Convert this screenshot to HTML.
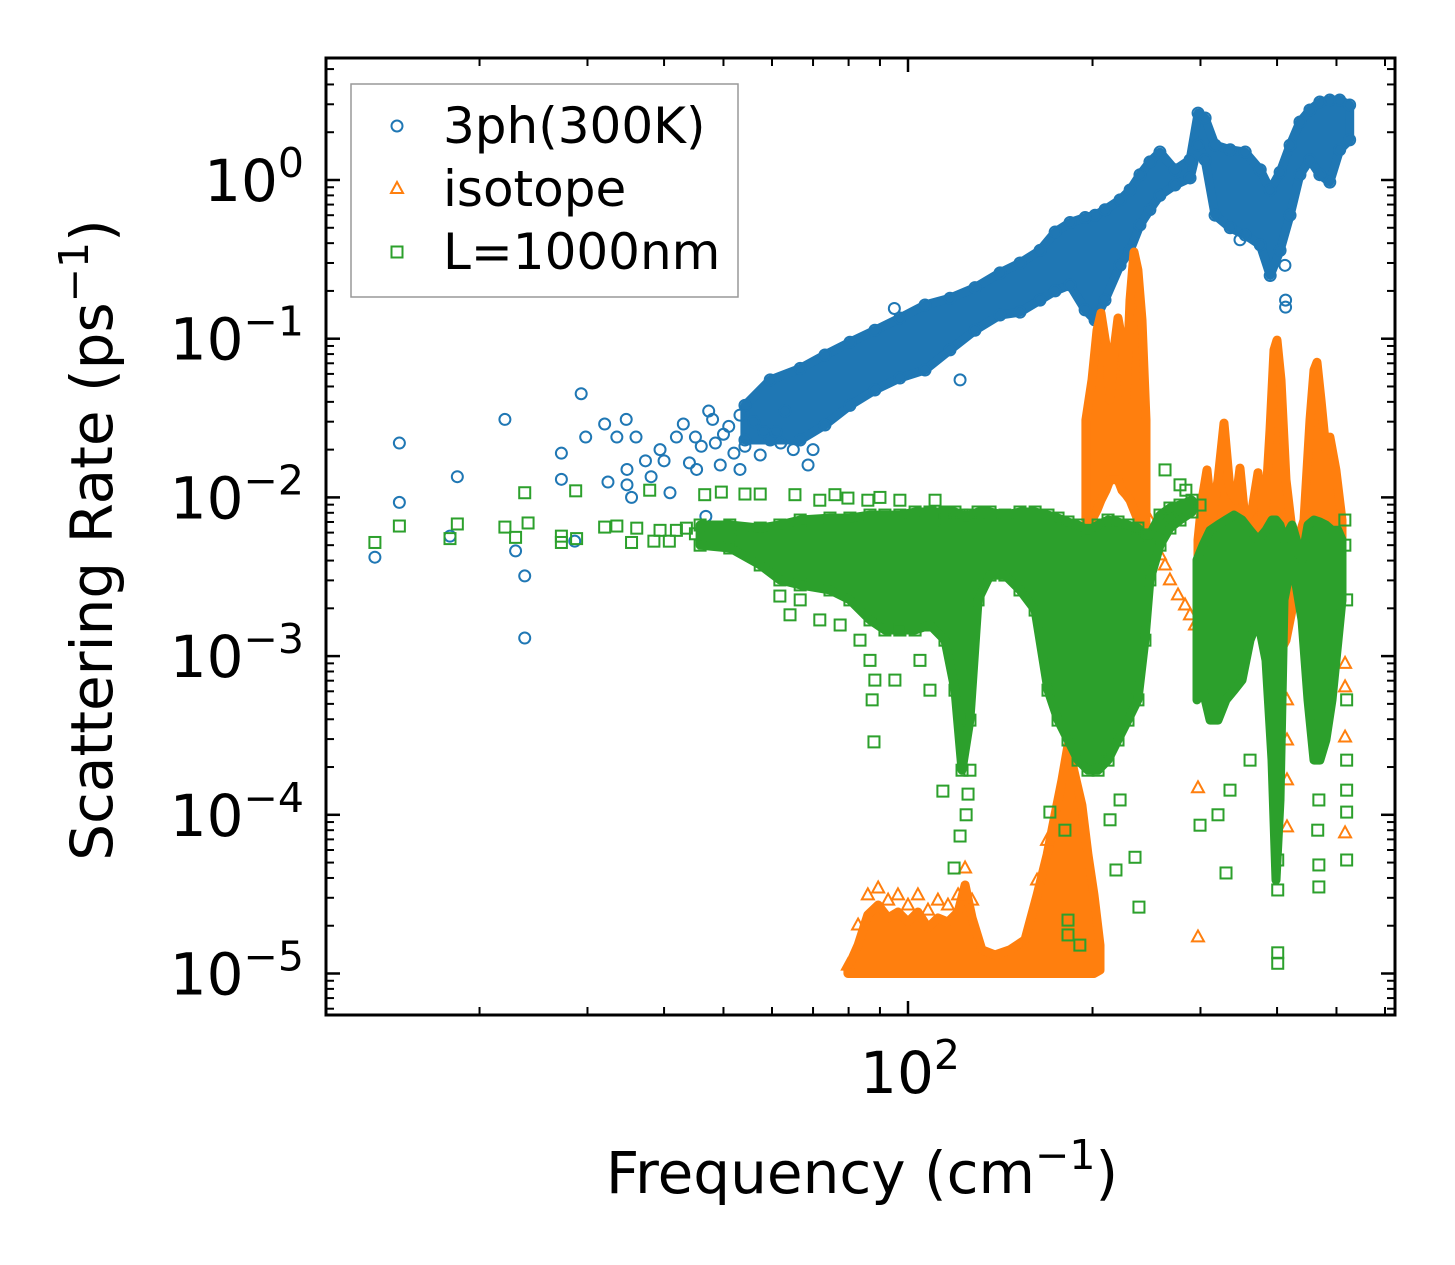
<!DOCTYPE html>
<html>
<head>
<meta charset="utf-8">
<style>
  html,body{margin:0;padding:0;background:#fff;}
  svg{display:block;}
  text{font-family:"DejaVu Sans","Liberation Sans",sans-serif;fill:#000;}
</style>
</head>
<body>
<svg id="chart" width="1455" height="1265" viewBox="0 0 1455 1265" xmlns="http://www.w3.org/2000/svg">
  <rect x="0" y="0" width="1455" height="1265" fill="#fff"/>
  <g id="marks"></g>
  <g id="axes"></g>
  <g id="legend">
    <rect x="351" y="84" width="387" height="213" fill="#fff" fill-opacity="0.8" stroke="#999" stroke-width="1.5"/>
    <circle cx="397" cy="126" r="5.5" fill="none" stroke="#1f77b4" stroke-width="2"/>
    <text x="443" y="143" font-size="50">3ph(300K)</text>
    <polygon points="397,182 403,193 391,193" fill="none" stroke="#ff7f0e" stroke-width="2"/>
    <text x="443" y="206" font-size="50">isotope</text>
    <rect x="391.5" y="246.5" width="11" height="11" fill="none" stroke="#2ca02c" stroke-width="2"/>
    <text x="443" y="269" font-size="50">L=1000nm</text>
  </g>
  <text x="862" y="1193" font-size="58" text-anchor="middle">Frequency (cm<tspan dy="-24" font-size="41">−1</tspan><tspan dy="24">)</tspan></text>
  <text transform="translate(112,540) rotate(-90)" x="0" y="0" font-size="58" text-anchor="middle">Scattering Rate (ps<tspan dy="-24" font-size="41">−1</tspan><tspan dy="24">)</tspan></text>
</svg>
<script>
// ---------- data: 3ph(300K) ----------
const blueBandFreq = [54.2,59.6,66.7,73.2,80.4,88.3,97.0,106.6,117.1,128.6,141.3,152.3,164.2,173.8,183.8,194.5,201.9,209.6,221.8,230.3,239.0,248.1,257.6,272.6,288.5,297.3,305.3,316.9,335.4,354.9,375.5,389.8,404.6,420.0,435.9,452.5,469.7,487.6,506.1,525.4];
const blueBandHi = [0.038,0.055,0.065,0.079,0.095,0.113,0.135,0.163,0.18,0.21,0.26,0.30,0.36,0.47,0.54,0.58,0.60,0.65,0.75,0.865,1.08,1.30,1.50,1.16,1.34,2.64,2.46,1.66,1.55,1.50,1.16,0.865,1.12,1.66,2.32,2.76,3.10,3.19,3.19,2.97];
const blueBandLo = [0.023,0.023,0.023,0.0286,0.038,0.0475,0.0565,0.0635,0.085,0.113,0.141,0.147,0.175,0.20,0.218,0.152,0.131,0.175,0.29,0.36,0.52,0.65,0.80,0.93,1.03,1.66,1.34,0.60,0.50,0.45,0.39,0.25,0.36,0.60,1.08,1.34,1.08,0.97,1.55,1.79];
const bluePtFreq = [13.5,14.8,14.8,18.4,17.9,22.0,22.9,23.7,23.7,27.2,27.2,28.6,29.3,29.8,32.0,32.4,33.5,34.7,34.8,34.8,35.4,36.0,37.3,38.1,39.4,40.0,40.9,41.9,43.0,44.0,45.0,45.2,46.0,47.3,48.0,46.8,48.5,49.4,50.0,53.2,53.2,54.2,57.4,58.2,60.9,68.7,63.0,95.0,412,413,413,348,121.6,51.0,52.0,56.0,62.0,65.0,70.0];
const bluePtRate = [4.2e-3,2.2e-2,9.3e-3,1.35e-2,5.7e-3,3.1e-2,4.6e-3,3.2e-3,1.3e-3,1.9e-2,1.3e-2,5.3e-3,4.5e-2,2.4e-2,2.9e-2,1.25e-2,2.4e-2,3.1e-2,1.5e-2,1.2e-2,1.0e-2,2.4e-2,1.7e-2,1.35e-2,2.0e-2,1.7e-2,1.07e-2,2.4e-2,2.9e-2,1.65e-2,2.4e-2,1.5e-2,2.1e-2,3.5e-2,3.1e-2,7.6e-3,2.2e-2,1.6e-2,2.5e-2,3.3e-2,1.5e-2,2.1e-2,1.85e-2,2.6e-2,2.6e-2,1.6e-2,3.5e-2,0.155,0.29,0.175,0.158,0.42,0.055,2.8e-2,1.9e-2,3.0e-2,2.2e-2,2.0e-2,2.0e-2];

// ---------- data: isotope ----------
const oLowFreq = [79.8,82.9,86.0,89.4,92.8,96.3,100,103.8,107.8,111.9,116.2,120.7,123.9,127.2,132.0,138.7,146.7,155.2,162.4,168.6,173.7,178.3,182.4,187.2,192.2,196.6,201.1,205.7];
const oLowTop = [1.08e-5,1.51e-5,2.34e-5,2.70e-5,2.24e-5,2.44e-5,2.11e-5,2.44e-5,1.94e-5,2.24e-5,2.11e-5,2.44e-5,3.61e-5,2.24e-5,1.41e-5,1.31e-5,1.41e-5,1.63e-5,3.13e-5,5.6e-5,1.0e-4,1.66e-4,2.75e-4,1.78e-4,1.15e-4,5.6e-5,3.13e-5,1.51e-5];
const oLowBot = [1e-5,1e-5,1e-5,1e-5,1e-5,1e-5,1e-5,1e-5,1e-5,1e-5,1e-5,1e-5,1e-5,1e-5,1e-5,1e-5,1e-5,1e-5,1e-5,1e-5,1e-5,1e-5,1e-5,1e-5,1e-5,1e-5,1e-5,1.05e-5];
const oHighFreq = [195.1,199.6,203.4,206.5,210.4,213.6,216.8,220.1,223.4,226.8,230.2,233.7,237.2,240.8,244.5];
const oHighTop = [3.08e-2,5.5e-2,0.113,0.145,0.091,4.11e-2,8.5e-2,0.135,9.8e-2,4.11e-2,0.175,0.352,0.271,0.131,3.08e-2];
const oHighBot = [5.4e-3,7.2e-3,8.3e-3,9.6e-3,1.11e-2,1.29e-2,1.29e-2,1.29e-2,1.11e-2,1.04e-2,9.6e-3,8.3e-3,7.2e-3,5.4e-3,4.34e-3];
const oRightFreq = [297.2,301.7,307.4,313.3,320.4,327.7,335.2,342.8,348.0,354.6,364.1,372.4,380.9,389.5,395.4,399.9,406.0,413.7,423.1,432.7,442.6,452.7,459.5,464.7,471.7,480.6,487.9,499.0,510.5];
const oRightTop = [5.4e-3,9.6e-3,1.49e-2,7.2e-3,1.29e-2,2.94e-2,1.11e-2,9.6e-3,1.53e-2,7.2e-3,8.3e-3,1.43e-2,6.2e-3,2.66e-2,8.5e-2,9.8e-2,5.5e-2,1.29e-2,6.2e-3,5.4e-3,7.2e-3,3.08e-2,6.35e-2,7.1e-2,4.11e-2,1.99e-2,2.40e-2,1.49e-2,7.2e-3];
const oRightBot = [1.57e-3,1.69e-3,1.69e-3,1.69e-3,1.46e-3,1.46e-3,1.46e-3,1.46e-3,1.46e-3,1.46e-3,1.46e-3,1.46e-3,1.69e-3,1.46e-3,1.26e-3,1.09e-3,1.09e-3,1.26e-3,1.95e-3,2.26e-3,2.43e-3,2.43e-3,2.43e-3,2.61e-3,2.26e-3,1.95e-3,1.95e-3,1.69e-3,2.26e-3];
const oPtFreq = [79.8,82.9,86.0,89.4,92.8,96.3,100,103.8,107.8,111.9,116.2,120.7,123.9,127.2,162.4,168.6,182.4,248.1,252.9,257.7,262.6,267.5,275.7,283.1,288.4,293.9,516.4,516.4,516.4,516.4,297.2,297.2,415.2,415.2,415.2,415.2,201.9,221.8,239.0];
const oPtRate = [1.13e-5,2.02e-5,3.13e-5,3.46e-5,2.90e-5,3.13e-5,2.70e-5,3.13e-5,2.51e-5,2.90e-5,2.70e-5,3.13e-5,4.62e-5,2.90e-5,3.88e-5,6.9e-5,3.42e-4,7.2e-3,5.4e-3,4.34e-3,3.75e-3,3.02e-3,2.43e-3,2.10e-3,1.82e-3,1.57e-3,9.0e-4,6.4e-4,3.09e-4,7.7e-5,1.48e-4,1.70e-5,5.3e-4,2.96e-4,1.66e-4,8.4e-5,5.0e-3,4.04e-3,4.04e-3];

// ---------- data: L=1000nm ----------
const gBandFreq = [45.8,51.2,57.4,61.8,66.7,74.6,80.4,86.7,91.7,97.0,102.7,108.6,114.9,119.3,122.5,126.2,130.1,136.1,143.9,152.3,161.2,169.2,175.7,182.4,189.4,196.6,204.2,212.0,220.1,228.5,237.2,243.5,248.1,257.7,267.5,277.8,290.6];
const gBandTop = [6.70e-3,6.70e-3,6.41e-3,6.70e-3,7.2e-3,7.41e-3,7.41e-3,7.74e-3,7.74e-3,7.74e-3,8.09e-3,8.09e-3,8.09e-3,8.09e-3,7.74e-3,7.74e-3,8.09e-3,8.09e-3,7.74e-3,8.09e-3,8.09e-3,7.74e-3,7.41e-3,7.0e-3,6.70e-3,6.2e-3,6.70e-3,7.2e-3,7.0e-3,6.70e-3,6.41e-3,5.80e-3,5.80e-3,7.74e-3,8.57e-3,8.95e-3,9.6e-3];
const gBandBot = [5.0e-3,4.80e-3,3.75e-3,3.02e-3,2.81e-3,2.61e-3,2.26e-3,1.69e-3,1.46e-3,1.46e-3,1.46e-3,1.57e-3,1.26e-3,6.1e-4,1.91e-4,3.95e-4,2.26e-3,3.24e-3,3.24e-3,2.61e-3,1.95e-3,6.1e-4,3.95e-4,2.96e-4,2.21e-4,1.91e-4,1.91e-4,2.21e-4,2.96e-4,3.95e-4,5.3e-4,1.26e-3,3.02e-3,5.0e-3,6.41e-3,7.2e-3,8.09e-3];
const gRightFreq = [296.1,302.9,311.0,320.4,330.2,340.3,350.7,361.4,372.4,383.7,392.5,398.4,404.5,410.6,423.1,439.3,449.3,459.5,469.9,480.6,491.6,502.8,510.5];
const gRightTop = [4.04e-3,5.0e-3,6.2e-3,6.70e-3,7.2e-3,7.74e-3,7.2e-3,6.2e-3,5.4e-3,6.2e-3,7.2e-3,7.2e-3,6.70e-3,5.4e-3,6.70e-3,4.04e-3,6.70e-3,7.2e-3,7.0e-3,6.70e-3,6.2e-3,6.2e-3,5.4e-3];
const gRightBot = [5.3e-4,6.1e-4,3.95e-4,3.95e-4,5.3e-4,6.1e-4,7.06e-4,1.26e-3,1.69e-3,9.4e-4,2.21e-4,3.88e-5,1.24e-4,2.26e-3,4.04e-3,1.69e-3,5.3e-4,2.21e-4,2.21e-4,2.96e-4,5.3e-4,1.26e-3,2.26e-3];
const gPtFreq = [13.5,14.8,17.9,18.4,22.0,22.9,23.7,24.0,27.2,27.2,28.7,28.8,32.0,33.5,35.4,36.1,37.9,38.5,39.4,40.8,41.9,43.5,45.0,46.6,49.6,53.4,54.2,57.4,65.4,71.8,76.0,79.8,86.0,90.0,97.0,110.7,114.9,61.8,64.2,66.7,71.8,77.5,83.5,86.7,88.3,88.0,87.4,95.2,97.0,104.6,108.6,114.0,118.9,121.6,124.4,125.3,126.2,170.4,180.3,182.4,182.4,190.7,218.4,234.6,238.1,205.7,213.6,221.8,330.2,299.5,320.4,335.2,361.4,401.0,401.0,401.0,401.0,468,468,466,468,519.5,519.5,519.5,519.5,519.5,519.5,262.6,277.8,284,299.5,516,516];
const gPtRate = [5.2e-3,6.6e-3,5.5e-3,6.8e-3,6.5e-3,5.6e-3,1.07e-2,6.9e-3,5.7e-3,5.2e-3,1.10e-2,5.5e-3,6.5e-3,6.6e-3,5.2e-3,6.4e-3,1.11e-2,5.3e-3,6.2e-3,5.3e-3,6.2e-3,6.4e-3,5.9e-3,1.04e-2,1.08e-2,5.4e-3,1.05e-2,1.05e-2,1.04e-2,9.6e-3,1.04e-2,9.9e-3,9.6e-3,1.0e-2,9.6e-3,9.6e-3,7.2e-3,2.39e-3,1.82e-3,2.26e-3,1.69e-3,1.57e-3,1.26e-3,9.4e-4,7.06e-4,2.88e-4,5.3e-4,7.06e-4,1.46e-3,9.4e-4,6.1e-4,1.41e-4,4.62e-5,7.35e-5,1.0e-4,1.35e-4,1.91e-4,1.04e-4,8.0e-5,2.17e-5,1.75e-5,1.51e-5,4.49e-5,5.4e-5,2.62e-5,2.21e-4,9.3e-5,1.24e-4,4.30e-5,8.6e-5,1.0e-4,1.43e-4,2.21e-4,1.35e-5,1.16e-5,3.36e-5,5.19e-5,3.51e-5,4.83e-5,8.0e-5,1.24e-4,5.19e-5,1.04e-4,1.43e-4,2.21e-4,5.3e-4,2.26e-3,1.49e-2,1.2e-2,1.11e-2,8.95e-3,7.2e-3,5.0e-3];

// ---------- axes config ----------
const yMajorExps = [0,-1,-2,-3,-4,-5];
const xMajorVals = [100];
const xMajorLabels = ["2"];

const PL = 326, PR = 1395, PT = 58, PB = 1015;
const X0 = 908, XD = 613, Y0 = 180, YD = 158.7;
function xs(f){ return X0 + XD*(Math.log10(f)-2); }
function ys(v){ return Y0 - YD*Math.log10(v); }

const NS = "http://www.w3.org/2000/svg";
const marks = document.getElementById('marks');
const axes = document.getElementById('axes');
function mk(tag, attrs, parent){
  const e = document.createElementNS(NS, tag);
  for (const k in attrs) e.setAttribute(k, attrs[k]);
  parent.appendChild(e);
  return e;
}

const clip = mk('clipPath', {id:'plotclip'}, document.getElementById('chart'));
mk('rect', {x:PL, y:PT, width:PR-PL, height:PB-PT}, clip);
marks.setAttribute('clip-path', 'url(#plotclip)');

const C_BLUE = '#1f77b4', C_ORANGE = '#ff7f0e', C_GREEN = '#2ca02c';

function band(freq, hi, lo, color, name){
  const pts = [];
  for (let i=0;i<freq.length;i++) pts.push(xs(freq[i]).toFixed(1)+','+ys(hi[i]).toFixed(1));
  for (let i=freq.length-1;i>=0;i--) pts.push(xs(freq[i]).toFixed(1)+','+ys(lo[i]).toFixed(1));
  const p = mk('polygon', {points: pts.join(' '), fill: color, stroke: color, 'stroke-width': 9, 'stroke-linejoin':'round'}, marks);
  
  
}
function circle(f, v, name){
  const c = mk('circle', {cx: xs(f), cy: ys(v), r: 5.5, fill:'none', stroke:C_BLUE, 'stroke-width':2}, marks);
  
  
}
function tri(f, v, name){
  const x = xs(f), y = ys(v);
  const t = mk('polygon', {points: x+','+(y-6.5)+' '+(x+6)+','+(y+4.5)+' '+(x-6)+','+(y+4.5), fill:'none', stroke:C_ORANGE, 'stroke-width':2}, marks);
  
  
}
function sq(f, v, name){
  const s = mk('rect', {x: xs(f)-5.5, y: ys(v)-5.5, width:11, height:11, fill:'none', stroke:C_GREEN, 'stroke-width':2}, marks);
  
  
}

// 3ph series
band(blueBandFreq, blueBandHi, blueBandLo, C_BLUE, '3ph-band');
for (let i=0;i<blueBandFreq.length;i++){ circle(blueBandFreq[i], blueBandHi[i], '3ph-point'); circle(blueBandFreq[i], blueBandLo[i], '3ph-point'); }
for (let i=0;i<bluePtFreq.length;i++) circle(bluePtFreq[i], bluePtRate[i], '3ph-point');

// isotope series
band(oLowFreq, oLowTop, oLowBot, C_ORANGE, 'isotope-band-low');
band(oHighFreq, oHighTop, oHighBot, C_ORANGE, 'isotope-band-mid');
band(oRightFreq, oRightTop, oRightBot, C_ORANGE, 'isotope-band-high');
for (let i=0;i<oPtFreq.length;i++) tri(oPtFreq[i], oPtRate[i], 'isotope-point');

// boundary series
band(gBandFreq, gBandTop, gBandBot, C_GREEN, 'boundary-band-main');
band(gRightFreq, gRightTop, gRightBot, C_GREEN, 'boundary-band-high');
for (let i=0;i<gBandFreq.length;i++){ sq(gBandFreq[i], gBandTop[i], 'boundary-point'); sq(gBandFreq[i], gBandBot[i], 'boundary-point'); }
for (let i=0;i<gPtFreq.length;i++) sq(gPtFreq[i], gPtRate[i], 'boundary-point');

// ---------- axes ----------
const frame = mk('rect', {x:PL, y:PT, width:PR-PL, height:PB-PT, fill:'none', stroke:'#000', 'stroke-width':3}, axes);



for (let e=1; e>=-6; e--){
  for (let m=1; m<=9; m++){
    const y = ys(m*Math.pow(10,e));
    if (y < PT+1 || y > PB-1) continue;
    const len = (m===1) ? 14 : 8;
    const w = (m===1) ? 2.5 : 2;
    const t1 = mk('line', {x1:PL, x2:PL+len, y1:y, y2:y, stroke:'#000', 'stroke-width':w}, axes);
    
    
    const t2 = mk('line', {x1:PR, x2:PR-len, y1:y, y2:y, stroke:'#000', 'stroke-width':w}, axes);
    
    
  }
}
for (const e of yMajorExps){
  const y = ys(Math.pow(10,e));
  const t = mk('text', {x:304, y:y+21, 'font-size':58, 'text-anchor':'end'}, axes);
  
  
  t.appendChild(document.createTextNode('10'));
  const sp = mk('tspan', {dy:-24, 'font-size':41}, t);
  sp.textContent = (e===0) ? '0' : '\u2212' + Math.abs(e);
}
for (let e=1; e<=2; e++){
  for (let m=1; m<=9; m++){
    const x = xs(m*Math.pow(10,e));
    if (x < PL+1 || x > PR-1) continue;
    const len = (m===1) ? 14 : 8;
    const w = (m===1) ? 2.5 : 2;
    const t1 = mk('line', {x1:x, x2:x, y1:PB, y2:PB-len, stroke:'#000', 'stroke-width':w}, axes);
    
    
    const t2 = mk('line', {x1:x, x2:x, y1:PT, y2:PT+len, stroke:'#000', 'stroke-width':w}, axes);
    
    
  }
}
for (let i=0;i<xMajorVals.length;i++){
  const x = xs(xMajorVals[i]);
  const t = mk('text', {x:x+2, y:1093, 'font-size':58, 'text-anchor':'middle'}, axes);
  
  
  t.appendChild(document.createTextNode('10'));
  const sp = mk('tspan', {dy:-24, 'font-size':41}, t);
  sp.textContent = xMajorLabels[i];
}
</script>
</body>
</html>
